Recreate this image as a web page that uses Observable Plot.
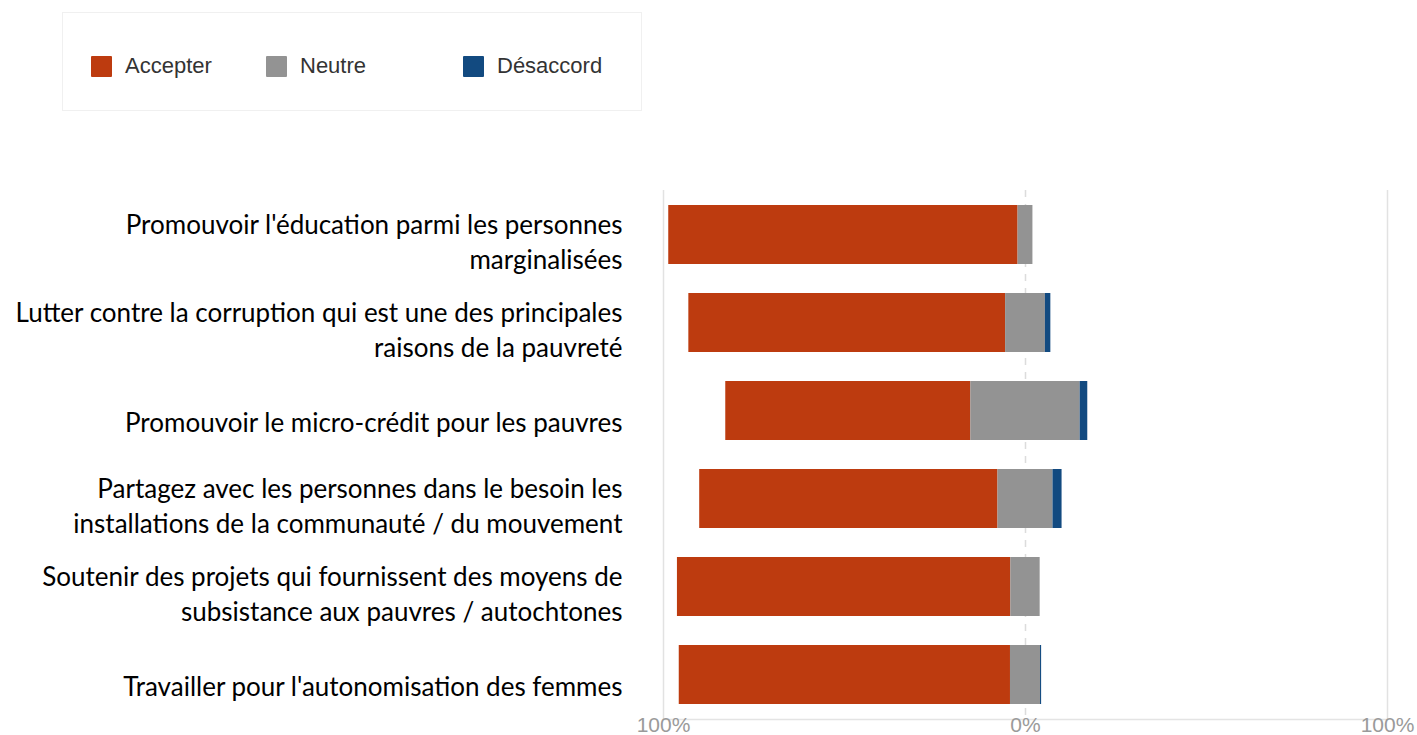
<!DOCTYPE html>
<html>
<head>
<meta charset="utf-8">
<script src="https://cdn.jsdelivr.net/npm/d3@7"></script>
<script src="https://cdn.jsdelivr.net/npm/@observablehq/plot@0.6"></script>
<style>
  html, body { margin: 0; padding: 0; background: #fff; overflow: hidden; }
  #top { position: relative; width: 1417px; height: 120px; }
  #legend { position: absolute; left: 62px; top: 12px; width: 580px; height: 99px; border: 1px solid #f0f0f0; box-sizing: border-box;
            font-family: "Liberation Sans", Arial, sans-serif; font-size: 22px; color: #333; }
  .item { position: absolute; top: 41px; display: flex; align-items: center; height: 24px; }
  .sw { width: 21px; height: 21px; margin-right: 13px; border-radius: 1px; }
</style>
</head>
<body>
<div id="top"><div id="legend"></div></div>
<div id="chart"></div>
<script>
const categories = [
  "Promouvoir l'éducation parmi les personnes\nmarginalisées",
  "Lutter contre la corruption qui est une des principales\nraisons de la pauvreté",
  "Promouvoir le micro-crédit pour les pauvres",
  "Partagez avec les personnes dans le besoin les\ninstallations de la communauté / du mouvement",
  "Soutenir des projets qui fournissent des moyens de\nsubsistance aux pauvres / autochtones",
  "Travailler pour l'autonomisation des femmes"
];
const series = ["Accepter", "Neutre", "Désaccord"];
const colors = ["#bd3b0f", "#939393", "#124a80"];
const accepter  = [96.5, 87.5, 67.7, 82.4, 92.1, 91.5];
const neutre    = [4.1, 11.0, 30.2, 15.2, 8.1, 8.3];
const desaccord = [0.0, 1.5, 2.1, 2.5, 0.0, 0.3];
const xTicks = [-100, 0, 100];
const xTickLabels = ["100%", "0%", "100%"];

// legend
const legendOffsets = [28, 203, 400];
const legend = document.getElementById("legend");
series.forEach((s, i) => {
  const it = document.createElement("div");
  it.className = "item";
  it.style.left = legendOffsets[i] + "px";
  const sw = document.createElement("div");
  sw.className = "sw";
  sw.style.background = colors[i];
  const tx = document.createElement("span");
  tx.textContent = s;
  it.appendChild(sw); it.appendChild(tx);
  legend.appendChild(it);
});

// diverging stack (neutral centred on 0, Accepter to the left)
const rows = [];
categories.forEach((q, i) => {
  const h = neutre[i] / 2;
  rows.push({q, cat: "Accepter", x1: -h - accepter[i], x2: -h});
  rows.push({q, cat: "Neutre", x1: -h, x2: h});
  if (desaccord[i] > 0) rows.push({q, cat: "Désaccord", x1: h, x2: h + desaccord[i]});
});

const twoLine = categories.filter((c) => c.includes("\n"));
const oneLine = categories.filter((c) => !c.includes("\n"));
const yAxisStyle = {tickSize: 0, tickPadding: 41, fontSize: 26, fontFamily: "Lato, sans-serif",
                    fill: "#000", lineHeight: 1.36, label: null};

const chart = Plot.plot({
  width: 1417,
  height: 615,
  marginTop: 70,
  marginBottom: 16,
  marginLeft: 663,
  marginRight: 30,
  style: {background: "#fff", overflow: "visible"},
  x: {domain: [-100, 100]},
  y: {domain: categories, paddingInner: 0.33, paddingOuter: 0.165},
  color: {domain: series, range: colors},
  marks: [
    Plot.gridX({ticks: [-100, 100], stroke: "#e2e2e2", strokeOpacity: 1, strokeWidth: 1.5}),
    Plot.ruleX([0], {stroke: "#dcdcdc", strokeWidth: 1.5, strokeDasharray: "7,7"}),
    Plot.frame({anchor: "bottom", stroke: "#e4e4e4", strokeWidth: 1.5}),
    Plot.barX(rows, {x1: "x1", x2: "x2", y: "q", fill: "cat", inset: 0}),
    Plot.axisY({...yAxisStyle, ticks: twoLine, dy: 5}),
    Plot.axisY({...yAxisStyle, ticks: oneLine, dy: 10}),
    Plot.axisX({ticks: xTicks, tickFormat: (d) => xTickLabels[xTicks.indexOf(d)], tickSize: 0, tickPadding: -2,
                fontSize: 21, fontFamily: "Liberation Sans, Arial, sans-serif", fill: "#9a9a9a", label: null})
  ]
});
document.getElementById("chart").appendChild(chart);
</script>
</body>
</html>
